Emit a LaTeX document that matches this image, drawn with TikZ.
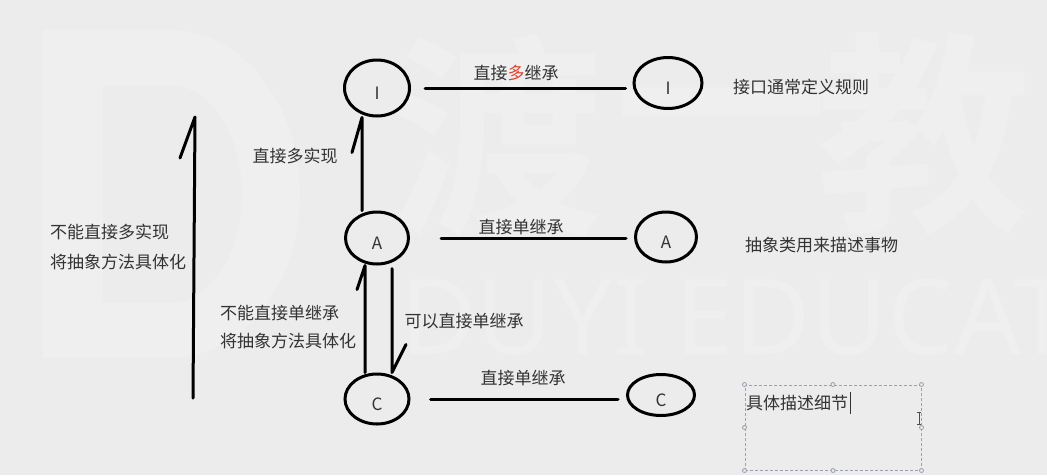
\documentclass[tikz,border=0pt]{standalone}
\usepackage{fontspec}
\setmainfont{Noto Sans CJK SC}
\newfontfamily\wmlatin{Noto Sans}
\newfontfamily\wmcjk{Noto Sans CJK SC}[BoldFont=* Bold]
\usetikzlibrary{shapes.geometric}

\definecolor{bg}{HTML}{ECECEC}
\definecolor{wm}{HTML}{EFEFEF}
\definecolor{txt}{HTML}{333333}
\definecolor{hl}{HTML}{E0402A}
\definecolor{sel}{HTML}{9AA0B0}

\tikzset{
  cls/.style={ellipse, draw=black, line width=3pt, inner sep=0pt},
  letter/.style={text=txt, font=\fontsize{17}{19}\selectfont, inner sep=0pt, yshift=-5pt},
  link/.style={draw=black, line width=3pt, line cap=round},
  arr/.style={draw=black, line width=3pt, line cap=round, line join=round},
  lbl/.style={text=txt, font=\fontsize{17}{20}\selectfont, inner sep=0pt},
  note/.style={lbl, anchor=west},
  wmark/.style={text=wm, inner sep=0pt},
  handle/.style={draw=sel, fill=bg, line width=0.8pt}
}

\begin{document}
\begin{tikzpicture}[x=1pt,y=-1pt]
\useasboundingbox (0,0) rectangle (1047,475);
\fill[bg] (0,0) rectangle (1047,475);

% faint logo watermark behind the diagram
\begin{scope}
  \clip (0,0) rectangle (1047,475);
  \fill[wm, even odd rule]
    (43,30) -- (170,30) arc[start angle=-90, end angle=90, x radius=130, y radius=164] -- (43,358) -- cycle
    (103,85) -- (170,85) arc[start angle=-90, end angle=90, x radius=72, y radius=109] -- (103,303) -- cycle;
  \node[wmark, font=\wmcjk\bfseries\fontsize{215}{215}\selectfont] (wmDu) at (497,136) {渡};
  \node[wmark, font=\wmcjk\bfseries\fontsize{215}{215}\selectfont] (wmYi) at (722,137) {一};
  \node[wmark, font=\wmcjk\bfseries\fontsize{215}{215}\selectfont] (wmJiao) at (924,134) {教};
  \node[wmark, anchor=base west, font=\wmlatin\fontsize{105}{105}\selectfont] (wmName) at (400,354) {DUYI EDUCAT};
\end{scope}

% class nodes: interface, abstract class, concrete class
\node[cls, minimum width=65pt, minimum height=56pt, label={[letter]center:I}] (I1) at (377,88) {};
\node[cls, minimum width=63pt, minimum height=52pt, label={[letter]center:A}] (A1) at (377,238) {};
\node[cls, minimum width=64pt, minimum height=50pt, label={[letter]center:C}] (C1) at (377,399) {};
\node[cls, minimum width=68pt, minimum height=51pt, label={[letter]center:I}] (I2) at (668,83) {};
\node[cls, minimum width=61pt, minimum height=50pt, label={[letter]center:A}] (A2) at (666,237) {};
\node[cls, minimum width=67pt, minimum height=41pt, label={[letter]center:C}] (C2) at (661,395) {};

% horizontal inheritance lines
\draw[link, shorten <=14pt, shorten >=7pt] (I1.east) -- (I1.east -| I2.west);
\draw[link, shorten <=31pt, shorten >=8pt] (A1.east) -- (A1.east -| A2.west);
\draw[link, shorten <=20pt, shorten >=8pt] (C1.east) -- (C1.east -| C2.west);

% vertical arrows with a single hand-drawn barb
\draw[arr] ([xshift=-15pt]A1.north) -- ([xshift=-15pt]I1.south) -- ++(-10,35);
\draw[arr] ([xshift=-12pt]C1.north) -- ([xshift=-12pt]A1.south) -- ++(-8,24);
\draw[arr, shorten <=3pt] ([xshift=15pt]A1.south) -- ([xshift=15pt]C1.north) -- ++(14,-28);

% long arrow on the left
\coordinate (bigTail) at (193,398);
\coordinate (bigHead) at (195,117);
\coordinate (bigBarb) at (180,158);
\draw[arr] (bigTail) -- (bigHead) -- (bigBarb);

% connector labels
\node[lbl] (lblII) at (516,73) {直接\textcolor{hl}{多}继承};
\node[lbl] (lblAI) at (295,156) {直接多实现};
\node[lbl] (lblAA) at (521,227) {直接单继承};
\node[lbl] (lblCC) at (523,378) {直接单继承};
\node[lbl] (lblAC) at (464,321) {可以直接单继承};

\node[note] (n1) at (50,232) {不能直接多实现};
\node[note] (n2) at (50,262) {将抽象方法具体化};
\node[note] (n3) at (220,313) {不能直接单继承};
\node[note] (n4) at (220,341) {将抽象方法具体化};

% descriptions on the right
\node[note] (dI) at (733,87) {接口通常定义规则};
\node[note] (dA) at (745,245) {抽象类用来描述事物};

% text box being edited
\node[draw=sel, line width=1pt, dash pattern=on 3pt off 2pt, minimum width=176pt, minimum height=85pt, inner sep=0pt] (box) at (833,427.5) {};
\foreach \a in {north west, north, north east, east, south east, south, south west, west}
  \draw[handle] (box.\a) circle (2pt);
\node[note] (dC) at (746,403) {具体描述细节};
\draw[txt, line width=1pt] (dC.east) ++(2,-11) -- ++(0,22);
\draw[black!70, line width=0.8pt] (919,412) -- (919,424) (917,412) -- (921,412) (917,424) -- (921,424);
\end{tikzpicture}
\end{document}
